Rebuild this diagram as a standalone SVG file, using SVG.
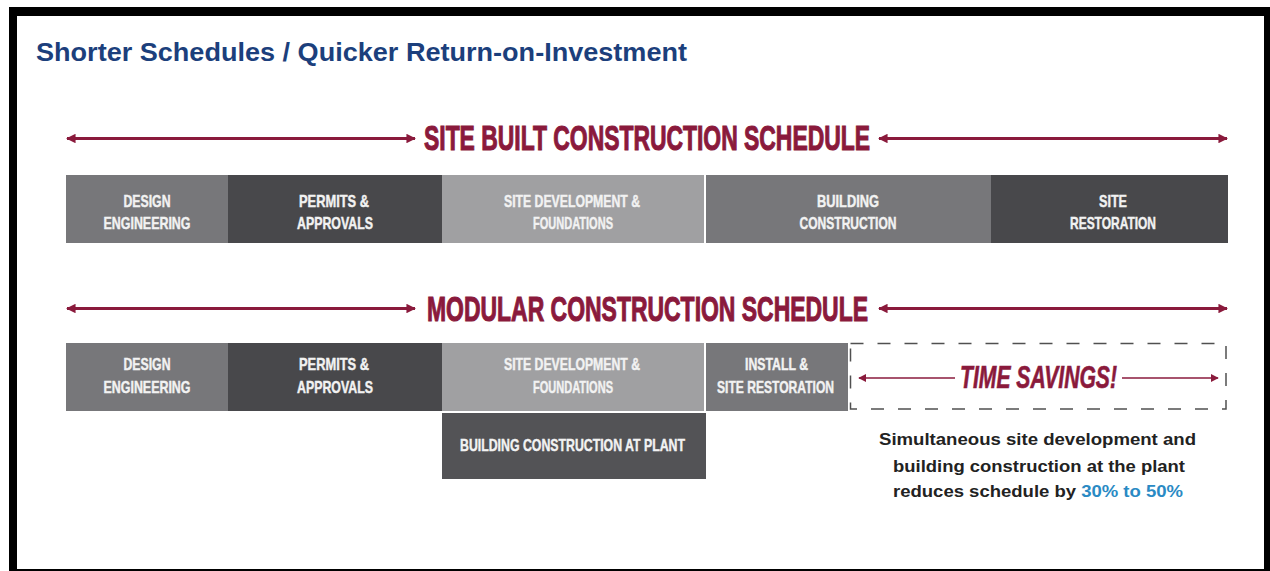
<svg xmlns="http://www.w3.org/2000/svg" width="1270" height="571" viewBox="0 0 1270 571">
<defs>
<style>
.title{font-family:"Liberation Sans",Arial,sans-serif;font-weight:bold;font-size:26px;fill:#1c3f7c}
.hdr{font-family:"Liberation Sans",Arial,sans-serif;font-weight:bold;font-size:35px;fill:#8a1a3c;stroke:#8a1a3c;stroke-width:1.1}
.lbl{font-family:"Liberation Sans",Arial,sans-serif;font-weight:bold;font-size:17px;fill:#f2f2f2;stroke:#f2f2f2;stroke-width:0.45;text-anchor:middle}
.ts{font-family:"Liberation Sans",Arial,sans-serif;font-weight:bold;font-style:italic;font-size:31px;fill:#8a1a3c;stroke:#8a1a3c;stroke-width:0.6}
.note{font-family:"Liberation Sans",Arial,sans-serif;font-weight:bold;font-size:16px;fill:#222;text-anchor:middle}
.mid{fill:#77777a}
.dark{fill:#48484b}
.light{fill:#a0a0a2}
.plant{fill:#535356}
.arr{stroke:#8a1a3c;stroke-width:2.8;fill:none}
.arrs{stroke:#8a1a3c;stroke-width:1.6;fill:none}
</style>
<marker id="ah" viewBox="0 0 10 10" refX="9" refY="5" markerWidth="3.4" markerHeight="3.4" orient="auto-start-reverse" markerUnits="strokeWidth">
<path d="M0,0 L10,5 L0,10 Z" fill="#8a1a3c"/>
</marker>
<marker id="ahs" viewBox="0 0 10 10" refX="9" refY="5" markerWidth="5" markerHeight="5" orient="auto-start-reverse" markerUnits="strokeWidth">
<path d="M0,0 L10,5 L0,10 Z" fill="#8a1a3c"/>
</marker>
</defs>
<rect x="0" y="0" width="1270" height="571" fill="#fff"/>
<rect x="9" y="7" width="1261" height="564" fill="#000"/>
<rect x="17" y="16" width="1247" height="553" fill="#fff"/>

<text class="title" x="36" y="61" textLength="651" lengthAdjust="spacingAndGlyphs">Shorter Schedules / Quicker Return-on-Investment</text>

<g id="connectors">
<line class="arr" x1="67" y1="138.5" x2="415" y2="138.5" marker-start="url(#ah)" marker-end="url(#ah)"/>
<line class="arr" x1="879" y1="138.5" x2="1227" y2="138.5" marker-start="url(#ah)" marker-end="url(#ah)"/>
<line class="arr" x1="67" y1="308.5" x2="415" y2="308.5" marker-start="url(#ah)" marker-end="url(#ah)"/>
<line class="arr" x1="879" y1="308.5" x2="1227" y2="308.5" marker-start="url(#ah)" marker-end="url(#ah)"/>
<line class="arrs" x1="859" y1="378" x2="955" y2="378" marker-start="url(#ahs)"/>
<line class="arrs" x1="1122" y1="378" x2="1218" y2="378" marker-end="url(#ahs)"/>
</g>

<g id="header-site-built">
<text class="hdr" x="424" y="150" textLength="446" lengthAdjust="spacingAndGlyphs">SITE BUILT CONSTRUCTION SCHEDULE</text>
</g>
<g id="header-modular">
<text class="hdr" x="427" y="321" textLength="441" lengthAdjust="spacingAndGlyphs">MODULAR CONSTRUCTION SCHEDULE</text>
</g>

<g id="sb-design">
<rect class="mid" x="66" y="175" width="162" height="68"/>
<text class="lbl" x="147" y="206.5" textLength="47" lengthAdjust="spacingAndGlyphs">DESIGN</text>
<text class="lbl" x="147" y="228.5" textLength="87" lengthAdjust="spacingAndGlyphs">ENGINEERING</text>
</g>
<g id="sb-permits">
<rect class="dark" x="228" y="175" width="214" height="68"/>
<text class="lbl" x="334" y="206.5" textLength="70" lengthAdjust="spacingAndGlyphs">PERMITS &amp;</text>
<text class="lbl" x="335" y="228.5" textLength="76" lengthAdjust="spacingAndGlyphs">APPROVALS</text>
</g>
<g id="sb-sitedev">
<rect class="light" x="442" y="175" width="262" height="68"/>
<text class="lbl" x="572" y="206.5" textLength="136" lengthAdjust="spacingAndGlyphs">SITE DEVELOPMENT &amp;</text>
<text class="lbl" x="573" y="228.5" textLength="80" lengthAdjust="spacingAndGlyphs">FOUNDATIONS</text>
</g>
<g id="sb-building">
<rect class="mid" x="706" y="175" width="285" height="68"/>
<text class="lbl" x="848" y="206.5" textLength="62" lengthAdjust="spacingAndGlyphs">BUILDING</text>
<text class="lbl" x="848" y="228.5" textLength="97" lengthAdjust="spacingAndGlyphs">CONSTRUCTION</text>
</g>
<g id="sb-restoration">
<rect class="dark" x="991" y="175" width="237" height="68"/>
<text class="lbl" x="1113" y="206.5" textLength="28" lengthAdjust="spacingAndGlyphs">SITE</text>
<text class="lbl" x="1113" y="228.5" textLength="86" lengthAdjust="spacingAndGlyphs">RESTORATION</text>
</g>

<g id="mod-design">
<rect class="mid" x="66" y="343" width="162" height="68"/>
<text class="lbl" x="147" y="370" textLength="47" lengthAdjust="spacingAndGlyphs">DESIGN</text>
<text class="lbl" x="147" y="392.5" textLength="87" lengthAdjust="spacingAndGlyphs">ENGINEERING</text>
</g>
<g id="mod-permits">
<rect class="dark" x="228" y="343" width="214" height="68"/>
<text class="lbl" x="334" y="370" textLength="70" lengthAdjust="spacingAndGlyphs">PERMITS &amp;</text>
<text class="lbl" x="335" y="392.5" textLength="76" lengthAdjust="spacingAndGlyphs">APPROVALS</text>
</g>
<g id="mod-sitedev">
<rect class="light" x="442" y="343" width="262" height="68"/>
<text class="lbl" x="572" y="370" textLength="136" lengthAdjust="spacingAndGlyphs">SITE DEVELOPMENT &amp;</text>
<text class="lbl" x="573" y="392.5" textLength="80" lengthAdjust="spacingAndGlyphs">FOUNDATIONS</text>
</g>
<g id="mod-install">
<rect class="mid" x="706" y="343" width="142" height="68"/>
<text class="lbl" x="776.5" y="370" textLength="63" lengthAdjust="spacingAndGlyphs">INSTALL &amp;</text>
<text class="lbl" x="775.5" y="392.5" textLength="117" lengthAdjust="spacingAndGlyphs">SITE RESTORATION</text>
</g>
<g id="mod-plant">
<rect class="plant" x="442" y="413" width="264" height="66"/>
<text class="lbl" x="572.5" y="451" textLength="225" lengthAdjust="spacingAndGlyphs">BUILDING CONSTRUCTION AT PLANT</text>
</g>
<g id="time-savings">
<rect x="850.5" y="343.5" width="375.5" height="65.5" fill="none" stroke="#505050" stroke-width="1.5" stroke-dasharray="13 14"/>
<text class="ts" x="960" y="388" textLength="157" lengthAdjust="spacingAndGlyphs">TIME SAVINGS!</text>
</g>
<g id="note">
<text class="note" x="1037.5" y="445" textLength="317" lengthAdjust="spacingAndGlyphs">Simultaneous site development and</text>
<text class="note" x="1039" y="471.5" textLength="292" lengthAdjust="spacingAndGlyphs">building construction at the plant</text>
<text class="note" x="1038" y="497" textLength="290" lengthAdjust="spacingAndGlyphs">reduces schedule by <tspan fill="#2a8ac4">30% to 50%</tspan></text>
</g>
</svg>
